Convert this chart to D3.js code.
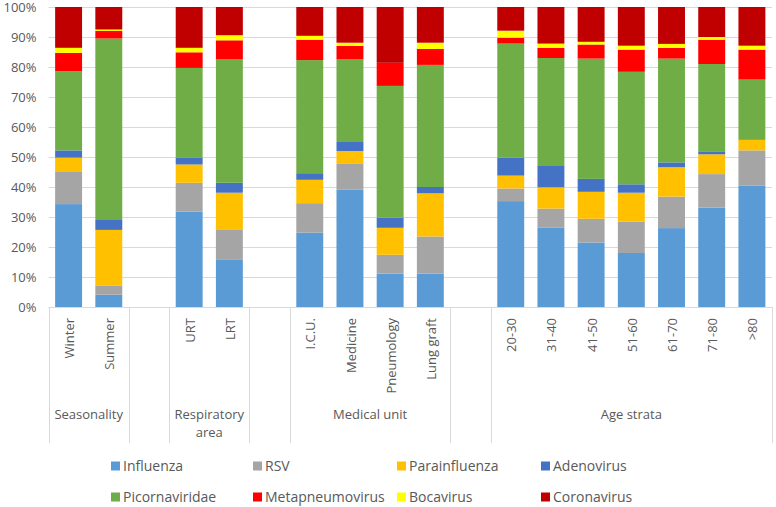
<!DOCTYPE html>
<html>
<head>
<meta charset="utf-8">
<script src="https://cdn.jsdelivr.net/npm/d3@7"></script>
<style>
  body { margin: 0; background: #fff; }
  text { font-family: "Open Sans", sans-serif; fill: #595959; }
</style>
</head>
<body>
<div class="svg-container"></div>
<script>
// groups and their categories
var groups = ["Seasonality", "Respiratory area", "Medical unit", "Age strata"];
var groupCategories = [
    ["Winter", "Summer"],
    ["URT", "LRT"],
    ["I.C.U.", "Medicine", "Pneumology", "Lung graft"],
    ["20-30", "31-40", "41-50", "51-60", "61-70", "71-80", ">80"]
];

var series = ["Influenza", "RSV", "Parainfluenza", "Adenovirus", "Picornaviridae", "Metapneumovirus", "Bocavirus", "Coronavirus"];
var colors = ["#5B9BD5", "#A5A5A5", "#FFC000", "#4472C4", "#70AD47", "#FF0000", "#FFFF00", "#C00000"];

// percentages, same order as the categories above
var influenza      = [34.3, 4.1, 31.8, 15.7, 24.8, 39.2, 11.1, 11.1, 35.3, 26.4, 21.5, 18.0, 26.3, 33.1, 40.4];
var rsv            = [10.7, 3.1,  9.6, 10.2,  9.8,  8.5,  6.3, 12.4,  4.2,  6.4,  7.9, 10.4, 10.5, 11.2, 11.8];
var parainfluenza  = [ 4.8, 18.5, 6.1, 12.2,  7.8,  4.3,  9.0, 14.4,  4.3,  7.1,  9.0,  9.7,  9.8,  6.6,  3.5];
var adenovirus     = [ 2.4, 3.3,  2.2,  3.3,  2.2,  3.0,  3.4,  2.1,  6.0,  7.1,  4.3,  2.8,  1.6,  1.0,  0.0];
var picornaviridae = [26.4, 60.5, 30.0, 41.1, 37.7, 27.5, 43.9, 40.7, 38.0, 36.0, 40.1, 37.5, 34.6, 29.1, 20.1];
var metapneumo     = [ 6.1, 2.5,  5.2,  6.4,  6.8,  4.5,  7.7,  5.3,  2.0,  3.4,  4.7,  7.4,  3.6,  8.1, 10.0];
var bocavirus      = [ 1.7, 0.5,  1.5,  1.7,  1.3,  1.1,  0.0,  2.1,  2.3,  1.4,  0.9,  1.3,  1.3,  0.9,  1.3];
var coronavirus    = [13.6, 7.5, 13.6,  9.4,  9.6, 11.9, 18.6, 11.9,  7.9, 12.2, 11.6, 12.9, 12.3, 10.0, 12.9];

var yTicks = [0, 10, 20, 30, 40, 50, 60, 70, 80, 90, 100];

var width = 776, height = 507;
var plotLeft = 48.5, plotRight = 772, plotTop = 7, plotBottom = 307;

var svg = d3.select(".svg-container").append("svg")
    .attr("width", width)
    .attr("height", height);

// build slots: categories with one blank slot between groups
var slots = [];
var rows = [];
var allSeries = [influenza, rsv, parainfluenza, adenovirus, picornaviridae, metapneumo, bocavirus, coronavirus];
var k = 0;
groupCategories.forEach(function(cats, gi) {
    if (gi > 0) slots.push("gap" + gi);
    cats.forEach(function(c) {
        slots.push(c);
        var row = { cat: c };
        series.forEach(function(s, si) { row[s] = allSeries[si][k]; });
        rows.push(row);
        k++;
    });
});

var x = d3.scaleBand()
    .domain(slots)
    .range([plotLeft, plotRight])
    .paddingInner(0.33)
    .paddingOuter(0.165);

var y = d3.scaleLinear()
    .domain([0, 100])
    .range([plotBottom, plotTop]);

// gridlines
svg.append("g")
    .selectAll("line")
    .data(yTicks)
    .enter().append("line")
    .attr("x1", plotLeft)
    .attr("x2", plotRight)
    .attr("y1", function(d) { return Math.round(y(d)) + 0.5; })
    .attr("y2", function(d) { return Math.round(y(d)) + 0.5; })
    .attr("stroke", "#D9D9D9")
    .attr("stroke-width", 1);

// y labels
var yAxis = svg.append("g")
    .attr("transform", "translate(" + (plotLeft - 12) + ",0)")
    .call(d3.axisLeft(y).tickValues(yTicks).tickSize(0).tickFormat(function(d) { return d + "%"; }));
yAxis.select(".domain").remove();
yAxis.selectAll("text")
    .attr("x", 0)
    .style("font-size", "13px")
    .style("font-family", "Open Sans")
    .attr("fill", "#595959");

// stacked bars
var stack = d3.stack().keys(series);
var layers = stack(rows);

svg.append("g")
    .selectAll("g")
    .data(layers)
    .enter().append("g")
    .attr("fill", function(d, i) { return colors[i]; })
    .selectAll("rect")
    .data(function(d) { return d; })
    .enter().append("rect")
    .attr("x", function(d) { return x(d.data.cat); })
    .attr("width", x.bandwidth())
    .attr("y", function(d) { return y(Math.min(d[1], 100)); })
    .attr("height", function(d) { return Math.max(0, y(d[0]) - y(Math.min(d[1], 100))); });

// category axis: vertical division lines
var step = x.step();
var x0 = x.range()[0];
var boundaries = [0];
var pos = 0;
groupCategories.forEach(function(cats, gi) {
    if (gi > 0) { pos += 1; boundaries.push(pos); }
    pos += cats.length;
    boundaries.push(pos);
});

svg.append("g")
    .selectAll("line")
    .data(boundaries)
    .enter().append("line")
    .attr("x1", function(d) { return Math.round(x0 + d * step) + 0.5; })
    .attr("x2", function(d) { return Math.round(x0 + d * step) + 0.5; })
    .attr("y1", plotBottom)
    .attr("y2", 443)
    .attr("stroke", "#D9D9D9");

// category labels (rotated)
svg.append("g")
    .selectAll("text")
    .data(rows)
    .enter().append("text")
    .attr("transform", function(d) {
        return "translate(" + (x(d.cat) + x.bandwidth() / 2 + 1) + "," + 318 + ") rotate(-90)";
    })
    .attr("dy", "0.35em")
    .style("text-anchor", "end")
    .style("font-size", "13px")
    .text(function(d) { return d.cat; });

// group labels
var start = 0;
groupCategories.forEach(function(cats, gi) {
    if (gi > 0) start += 1;
    var cx = x0 + (start + cats.length / 2) * step;
    var words = groups[gi] == "Respiratory area" ? ["Respiratory", "area"] : [groups[gi]];
    var t = svg.append("text")
        .attr("x", cx)
        .attr("y", 419)
        .style("text-anchor", "middle")
        .style("font-size", "13px");
    words.forEach(function(w, wi) {
        t.append("tspan")
            .attr("x", cx)
            .attr("dy", wi == 0 ? 0 : 18)
            .text(w);
    });
    start += cats.length;
});

// legend
var legendX = [111, 253, 397, 541];
var legendY = [466, 497];
var legend = svg.append("g")
    .selectAll("g")
    .data(series)
    .enter().append("g")
    .attr("transform", function(d, i) {
        return "translate(" + legendX[i % 4] + "," + legendY[Math.floor(i / 4)] + ")";
    });

legend.append("rect")
    .attr("x", 0)
    .attr("y", -4.5)
    .attr("width", 9)
    .attr("height", 9)
    .attr("fill", function(d, i) { return colors[i]; });

legend.append("text")
    .attr("x", 12)
    .attr("dy", "0.35em")
    .style("font-size", "14px")
    .text(function(d) { return d; });
</script>
</body>
</html>
